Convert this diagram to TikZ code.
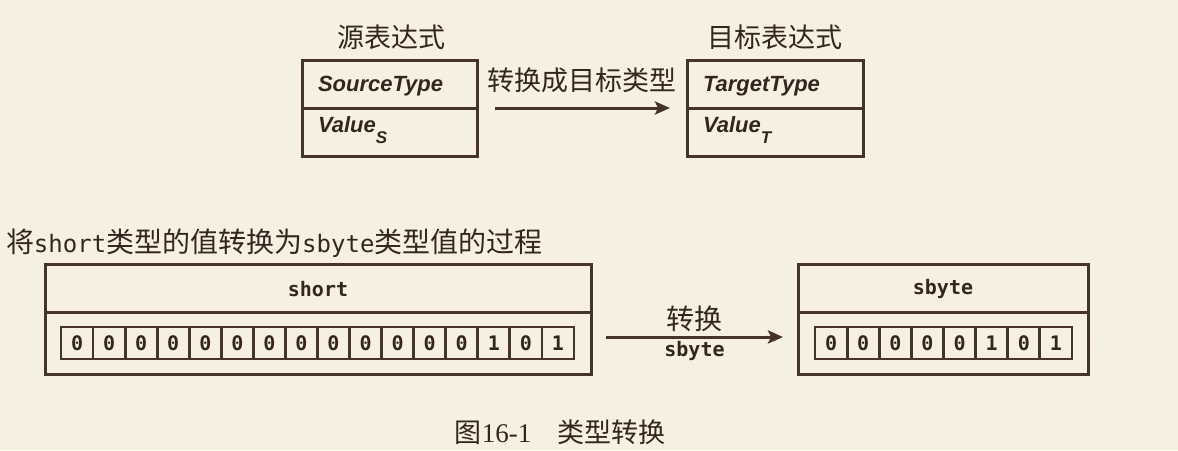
\documentclass[tikz,border=0pt]{standalone}
\usepackage{fontspec}
\setmainfont{Liberation Serif}
\setsansfont{Liberation Sans}
\setmonofont{DejaVu Sans Mono}
\newfontfamily\cjk{Noto Sans CJK SC}
\usetikzlibrary{arrows.meta}
\definecolor{bg}{RGB}{246,240,225}
\definecolor{ink}{RGB}{70,52,40}
\definecolor{txt}{RGB}{52,38,30}
\begin{document}
\begin{tikzpicture}[x=1pt,y=-1pt,
  every node/.style={text=txt, inner sep=0pt, outer sep=0pt},
  boxpart/.style={draw=ink, line width=3pt, minimum width=#1},
  cell/.style={draw=ink, line width=2.8pt, minimum height=32pt, font=\fontsize{20}{20}\selectfont\ttfamily\bfseries},
  typetxt/.style={font=\fontsize{22}{22}\selectfont\sffamily\itshape\bfseries},
  monotxt/.style={font=\fontsize{20}{20}\selectfont\ttfamily\bfseries},
  cjktxt/.style={font=\fontsize{27}{27}\selectfont\cjk},
  arr/.style={draw=ink, line width=3pt, -{Stealth[length=15pt,width=13pt,inset=3pt]}}
]
\fill[bg] (0,0) rectangle (1178,450);
\useasboundingbox (0,0) rectangle (1178,450);

% ---------- top part ----------
\node[boxpart=175pt, minimum height=48pt] (srcT) at (389.5,84) {};
\node[boxpart=175pt, minimum height=48pt] (srcV) at (389.5,132) {};
\node[boxpart=176pt, minimum height=48pt] (tgtT) at (775,84) {};
\node[boxpart=176pt, minimum height=48pt] (tgtV) at (775,132) {};

\node[typetxt, anchor=base west] (srcTt) at ([xshift=16pt,yshift=-7pt]srcT.west) {SourceType};
\node[typetxt, anchor=base west] (srcVt) at ([xshift=16pt,yshift=0pt]srcV.west) {Value\raisebox{-11pt}{\fontsize{17}{17}\selectfont S}};
\node[typetxt, anchor=base west] (tgtTt) at ([xshift=16pt,yshift=-7pt]tgtT.west) {TargetType};
\node[typetxt, anchor=base west] (tgtVt) at ([xshift=16pt,yshift=0pt]tgtV.west) {Value\raisebox{-11pt}{\fontsize{17}{17}\selectfont T}};

\node[cjktxt] (srcTitle) at (391,37) {源表达式};
\node[cjktxt] (tgtTitle) at (775,37) {目标表达式};

\draw[arr, shorten <=18pt, shorten >=17pt] (srcT.south east) -- (tgtT.south west)
  node[midway, cjktxt, yshift=28pt] (convlbl) {转换成目标类型};

% ---------- bottom part ----------
\node[anchor=west, font=\fontsize{28}{28}\selectfont\cjk] (caption) at (6,243)
  {将{\fontsize{24}{24}\selectfont\ttfamily short}类型的值转换为{\fontsize{24}{24}\selectfont\ttfamily sbyte}类型值的过程};

\node[boxpart=546pt, minimum height=48pt] (shortT) at (318,288) {};
\node[boxpart=546pt, minimum height=62pt] (shortV) at (318,343) {};
\node[monotxt] (shortName) at (318,289) {short};

\node[boxpart=290pt, minimum height=48pt] (sbyteT) at (943,288) {};
\node[boxpart=290pt, minimum height=62pt] (sbyteV) at (943,343) {};
\node[monotxt] (sbyteName) at (943,289) {sbyte};

\foreach \b [count=\i from 0] in {0,0,0,0,0,0,0,0,0,0,0,0,0,1,0,1}
  \node[cell, minimum width=32.06pt] (s\i) at ({61+16.03+\i*32.06},343) {\b};
\foreach \b [count=\i from 0] in {0,0,0,0,0,1,0,1}
  \node[cell, minimum width=32.12pt] (b\i) at ({815+16.06+\i*32.12},343) {\b};

\draw[arr] ([xshift=15pt,yshift=6pt]shortV.east) -- ([xshift=-15pt,yshift=6pt]sbyteV.west)
  node[midway, above=5pt, font=\fontsize{28}{28}\selectfont\cjk] (convtxt) {转换}
  node[midway, below=4pt, monotxt] (convtype) {sbyte};

\node[font=\fontsize{27}{27}\selectfont] (figcap) at (560,432) {{\cjk 图}16-1\hspace{26pt}{\cjk 类型转换}};
\end{tikzpicture}
\end{document}
